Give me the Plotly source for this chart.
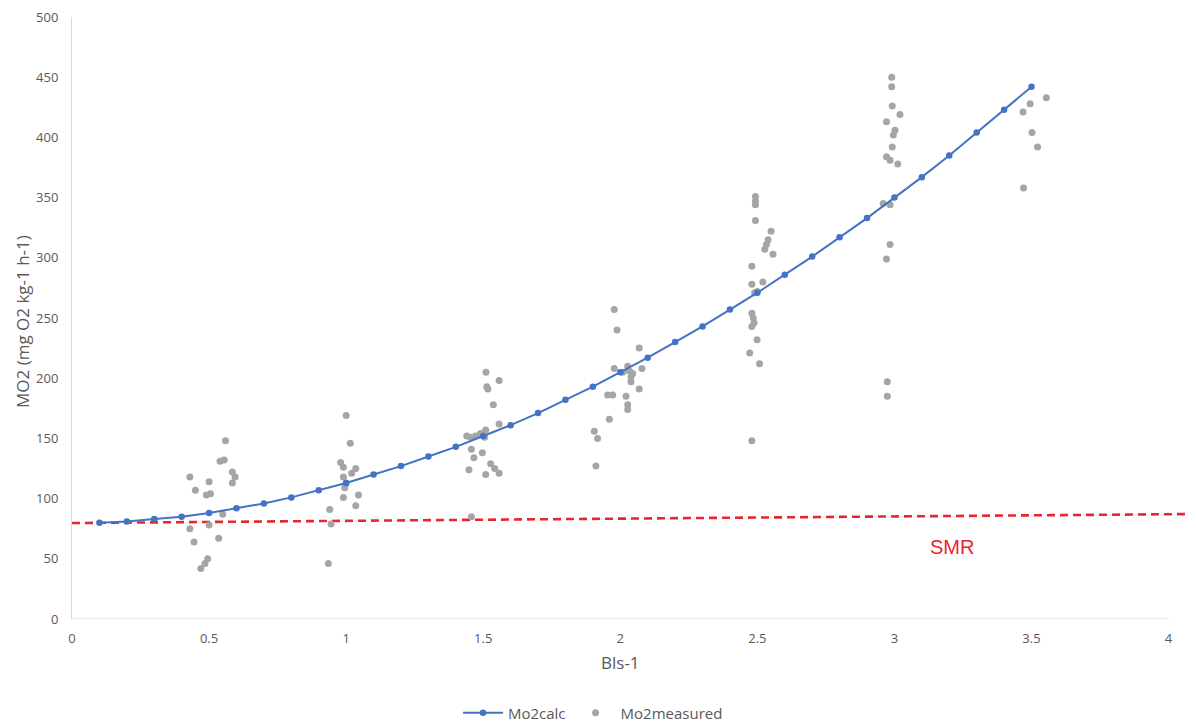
import plotly.graph_objects as go

# Mo2calc (blue curve)
calc_x = [0.1, 0.2, 0.3, 0.4, 0.5, 0.6, 0.7, 0.8, 0.9, 1.0, 1.1, 1.2, 1.3, 1.4, 1.5, 1.6, 1.7, 1.8,
          1.9, 2.0, 2.1, 2.2, 2.3, 2.4, 2.5, 2.6, 2.7, 2.8, 2.9, 3.0, 3.1, 3.2, 3.3, 3.4, 3.5]
calc_y = [80, 81, 83, 85, 88, 92, 96, 101, 107, 113, 120, 127, 135, 143, 152, 161, 171, 182,
          193, 205, 217, 230, 243, 257, 271, 286, 301, 317, 333, 350, 367, 385, 404, 423, 442]

# Mo2measured (grey points)
meas_x = [
    0.43, 0.45, 0.56, 0.54, 0.555, 0.50, 0.49, 0.505, 0.585, 0.595, 0.585, 0.55, 0.43, 0.445, 0.50, 0.535, 0.495, 0.485, 0.47,
    1.0, 1.015, 0.98, 0.99, 1.035, 1.02, 0.99, 1.0, 0.995, 1.045, 0.99, 1.035, 0.94, 0.945, 0.935,
    1.51, 1.513, 1.517, 1.558, 1.537, 1.558, 1.44, 1.454, 1.472, 1.49, 1.509, 1.505, 1.457, 1.497, 1.466, 1.448, 1.527, 1.542, 1.509, 1.558, 1.457,
    1.978, 1.988, 2.069, 1.978, 2.027, 2.033, 2.039, 2.045, 2.009, 2.079, 2.039, 2.069, 1.954, 1.972, 2.021, 2.027, 2.027, 1.96, 1.905, 1.917, 1.911,
    2.493, 2.493, 2.493, 2.493, 2.55, 2.539, 2.533, 2.527, 2.557, 2.48, 2.48, 2.52, 2.49, 2.50, 2.48, 2.485, 2.488, 2.48, 2.499, 2.472, 2.508, 2.48,
    2.99, 2.99, 2.992, 3.02, 2.971, 3.002, 2.996, 2.992, 2.971, 2.984, 3.012, 2.959, 2.984, 2.984, 2.971, 2.974, 2.974,
    3.554, 3.495, 3.469, 3.502, 3.522, 3.471,
]
meas_y = [
    118, 107, 148, 131, 132, 114, 103, 104, 122, 118, 113, 87, 75, 64, 78, 67, 50, 46, 42,
    169, 146, 130, 126, 125, 121, 118, 113, 109, 103, 101, 94, 91, 79, 46,
    205, 193, 191, 198, 178, 162, 152, 151, 152, 154, 157, 151, 141, 138, 134, 124, 129, 125, 120, 121, 85,
    257, 240, 225, 208, 210, 206, 201, 204, 205, 208, 197, 191, 186, 186, 185, 178, 174, 166, 156, 150, 127,
    351, 347, 344, 331, 322, 315, 311, 307, 303, 293, 278, 280, 271, 272, 254, 250, 246, 243, 232, 221, 212, 148,
    450, 442, 426, 419, 413, 406, 402, 392, 384, 381, 378, 345, 344, 311, 299, 197, 185,
    433, 428, 421, 404, 392, 358,
]

# SMR reference line
smr_x = [0, 4.1]
smr_y = [79.7, 87.2]

x_ticks = [0, 0.5, 1, 1.5, 2, 2.5, 3, 3.5, 4]
x_ticktext = ["0", "0.5", "1", "1.5", "2", "2.5", "3", "3.5", "4"]
y_ticks = [0, 50, 100, 150, 200, 250, 300, 350, 400, 450, 500]

FONT = "'Open Sans', Lato, sans-serif"
GREY_TXT = "#595959"
BLUE = "#4472c4"
GREY_PT = "#a5a5a5"
RED = "#e8262e"
AXIS = "#d9d9d9"

fig = go.Figure()

fig.add_trace(go.Scatter(
    x=smr_x, y=smr_y, mode="lines", showlegend=False, hoverinfo="skip",
    line=dict(color=RED, width=2.6, dash="8px,5px"),
))

fig.add_trace(go.Scatter(
    x=meas_x, y=meas_y, mode="markers", name="Mo2measured",
    marker=dict(color=GREY_PT, size=7),
))

fig.add_trace(go.Scatter(
    x=calc_x, y=calc_y, mode="lines+markers", name="Mo2calc",
    line=dict(color=BLUE, width=2),
    marker=dict(color=BLUE, size=6.5),
))

# x axis line drawn only from 0 to 4 (plot area extends a bit further for the SMR line)
fig.add_shape(type="line", xref="x", yref="y", x0=x_ticks[0], x1=x_ticks[-1], y0=0, y1=0,
              line=dict(color=AXIS, width=1), layer="below")

fig.add_annotation(text="SMR", x=3.21, y=60, xref="x", yref="y", showarrow=False,
                   font=dict(family="Liberation Sans, Arial, sans-serif", size=20, color=RED))

fig.add_annotation(text="Bls-1", x=2, y=-0.073, xref="x", yref="paper", showarrow=False,
                   font=dict(family=FONT, size=17, color=GREY_TXT), yanchor="middle")

fig.add_annotation(text="MO2 (mg O2 kg-1 h-1)", x=-0.0445, y=0.495, xref="paper", yref="paper",
                   showarrow=False, textangle=-90,
                   font=dict(family=FONT, size=17, color=GREY_TXT), xanchor="center", yanchor="middle")

# page body has an 8px margin, so the figure is sized/offset to land on the 1196x727 window
fig.update_layout(
    width=1188, height=719,
    margin=dict(l=64, r=0, t=9, b=108, autoexpand=False),
    paper_bgcolor="white", plot_bgcolor="white",
    font=dict(family=FONT, size=13, color=GREY_TXT),
    showlegend=True,
    legend=dict(orientation="h", x=0.4635, xanchor="center", y=-0.156, yanchor="middle",
                font=dict(family=FONT, size=15, color=GREY_TXT), traceorder="reversed",
                itemwidth=40),
    xaxis=dict(range=[0, 4.1], tickvals=x_ticks, ticktext=x_ticktext, showgrid=False,
               zeroline=False, showline=False, ticks="", ticklabelstandoff=10, automargin=False,
               ticklabeloverflow="allow",
               tickfont=dict(family=FONT, size=13, color=GREY_TXT)),
    yaxis=dict(range=[0, 500], tickvals=y_ticks, showgrid=False, zeroline=False,
               showline=True, linecolor=AXIS, linewidth=1, ticks="", ticklabelstandoff=10,
               automargin=False, ticklabeloverflow="allow",
               tickfont=dict(family=FONT, size=13, color=GREY_TXT)),
)

fig.write_html("out.html")
